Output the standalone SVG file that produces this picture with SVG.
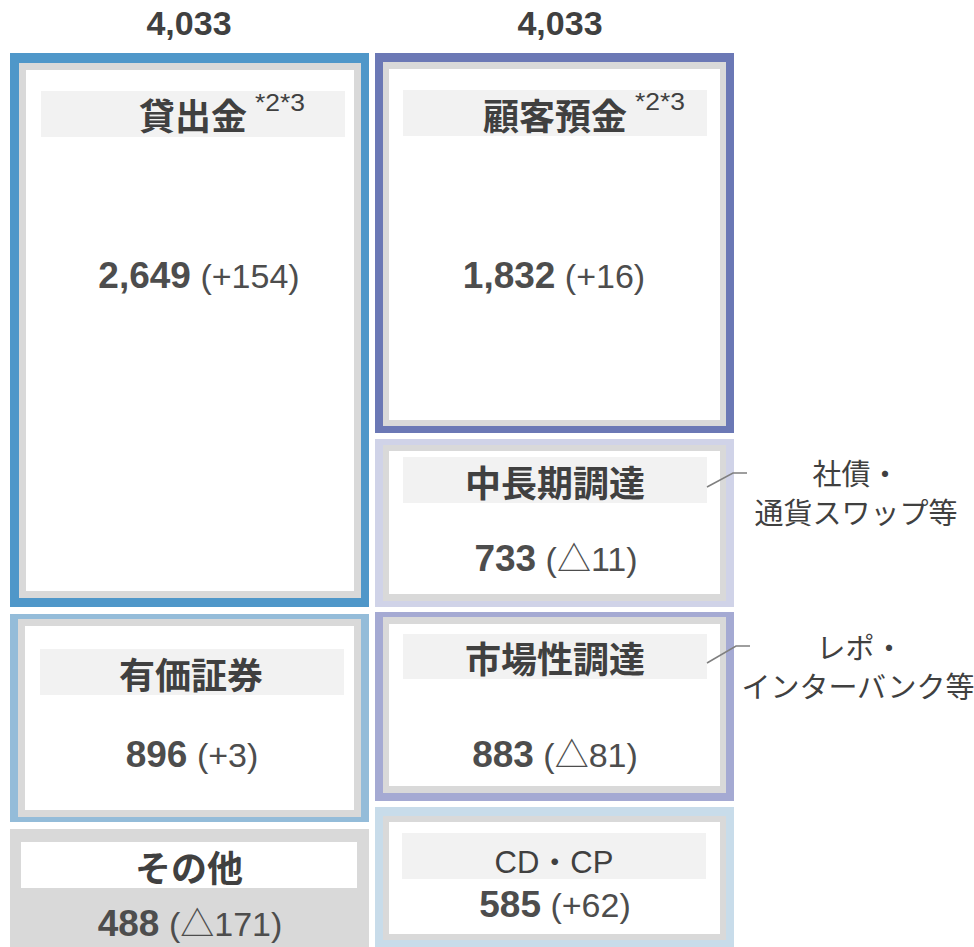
<svg xmlns="http://www.w3.org/2000/svg" width="974" height="947" viewBox="0 0 974 947">
<style>
.gray{fill:#d9d9d9}
.white{fill:#ffffff}
.band{fill:#f2f2f2}
.ttl{font-family:"Noto Sans CJK JP","Liberation Sans",sans-serif;font-weight:bold;font-size:36px;fill:#404040;text-anchor:middle}
.sup{font-family:"Liberation Sans","Noto Sans CJK JP",sans-serif;font-size:23px;fill:#404040}
.val{font-family:"Liberation Sans","Noto Sans CJK JP",sans-serif;font-size:37px;fill:#4d4d4d;text-anchor:middle}
.num{font-weight:bold}
.chg{font-weight:normal;font-size:34px}
.tot{font-family:"Liberation Sans",sans-serif;font-weight:bold;font-size:34px;fill:#404040;text-anchor:middle}
.side{font-family:"Noto Sans CJK JP","Liberation Sans",sans-serif;font-size:29px;fill:#404040;text-anchor:middle}
.cd{font-family:"Liberation Sans","Noto Sans CJK JP",sans-serif;font-size:31px;fill:#404040;text-anchor:middle}
.conn{fill:none;stroke:#7f7f7f;stroke-width:1.5}
</style>

<g id="totals">
  <text class="tot" x="189" y="35">4,033</text>
  <text class="tot" x="560" y="35">4,033</text>
</g>

<g id="loans">
  <rect x="10" y="53" width="359" height="554" fill="#4f97c9"/>
  <rect class="gray" x="19" y="63" width="342" height="535"/>
  <rect class="white" x="26" y="70" width="328" height="521"/>
  <rect class="band" x="41" y="91" width="304" height="46"/>
  <text class="ttl" x="193" y="130">貸出金</text>
  <text class="sup" x="255" y="111" textLength="50" lengthAdjust="spacingAndGlyphs">*2*3</text>
  <text class="val" x="199" y="288"><tspan class="num">2,649</tspan><tspan class="chg"> (+154)</tspan></text>
</g>

<g id="securities">
  <rect x="10" y="614" width="359" height="208" fill="#94bcd9"/>
  <rect class="gray" x="18" y="619" width="343" height="198"/>
  <rect class="white" x="25" y="626" width="329" height="184"/>
  <rect class="band" x="40" y="649" width="304" height="46"/>
  <text class="ttl" x="191" y="689">有価証券</text>
  <text class="val" x="192" y="767"><tspan class="num">896</tspan><tspan class="chg"> (+3)</tspan></text>
</g>

<g id="other">
  <rect class="gray" x="10" y="829" width="359" height="118"/>
  <rect class="white" x="21" y="842" width="336" height="46"/>
  <text class="ttl" x="189" y="882">その他</text>
  <text class="val" x="190" y="936"><tspan class="num">488</tspan><tspan class="chg"> (△171)</tspan></text>
</g>

<g id="deposits">
  <rect x="375" y="53" width="359" height="380" fill="#6b78b5"/>
  <rect class="gray" x="383" y="62" width="343" height="364"/>
  <rect class="white" x="389" y="69" width="331" height="351"/>
  <rect class="band" x="403" y="90" width="304" height="46"/>
  <text class="ttl" x="555" y="130">顧客預金</text>
  <text class="sup" x="635" y="110" textLength="50" lengthAdjust="spacingAndGlyphs">*2*3</text>
  <text class="val" x="554" y="288"><tspan class="num">1,832</tspan><tspan class="chg"> (+16)</tspan></text>
</g>

<g id="midlong">
  <rect x="375" y="439" width="359" height="168" fill="#d0d3e8"/>
  <rect class="gray" x="383" y="445" width="343" height="156"/>
  <rect class="white" x="389" y="451" width="331" height="143"/>
  <rect class="band" x="403" y="457" width="304" height="46"/>
  <text class="ttl" x="555" y="497">中長期調達</text>
  <text class="val" x="556" y="571"><tspan class="num">733</tspan><tspan class="chg"> (△11)</tspan></text>
</g>

<g id="market">
  <rect x="375" y="612" width="359" height="189" fill="#a5aad3"/>
  <rect class="gray" x="383" y="617" width="343" height="176"/>
  <rect class="white" x="389" y="624" width="331" height="162"/>
  <rect class="band" x="403" y="634" width="304" height="45"/>
  <text class="ttl" x="555" y="673">市場性調達</text>
  <text class="val" x="555" y="767"><tspan class="num">883</tspan><tspan class="chg"> (△81)</tspan></text>
</g>

<g id="cdcp">
  <rect x="375" y="807" width="359" height="140" fill="#c8dcea"/>
  <rect class="gray" x="383" y="816" width="343" height="124"/>
  <rect class="white" x="389" y="822" width="331" height="112"/>
  <rect class="band" x="402" y="833" width="304" height="46"/>
  <text class="cd" x="554" y="873">CD・CP</text>
  <text class="val" x="555" y="917"><tspan class="num">585</tspan><tspan class="chg"> (+62)</tspan></text>
</g>

<g id="note-midlong">
  <text class="side" x="856" y="485">社債・</text>
  <text class="side" x="856" y="524">通貨スワップ等</text>
</g>

<g id="note-market">
  <text class="side" x="860" y="659">レポ・</text>
  <text class="side" x="858" y="698">インターバンク等</text>
</g>

<g id="connectors">
  <polyline class="conn" points="707,487 733,473 747,473"/>
  <polyline class="conn" points="707,663 736,646 750,646"/>
</g>
</svg>
